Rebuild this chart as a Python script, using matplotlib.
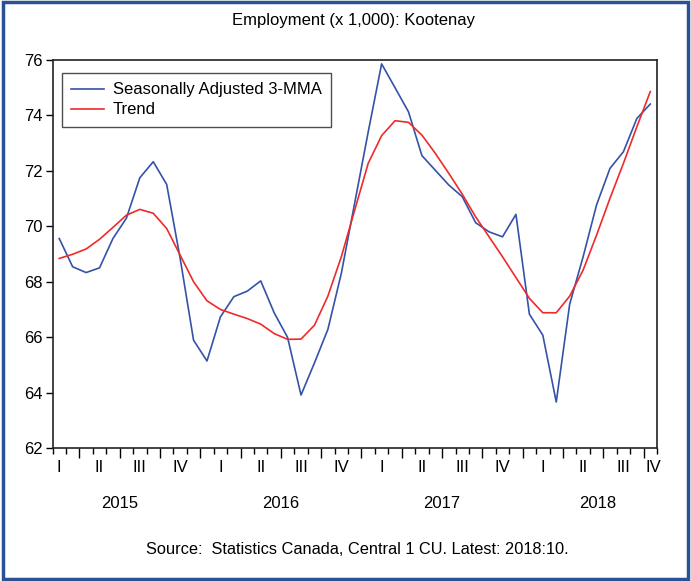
import matplotlib
matplotlib.use("Agg")
import matplotlib.pyplot as plt
import matplotlib.transforms as mtransforms
from matplotlib.patches import Rectangle

plt.rcParams['font.family'] = ['Liberation Sans', 'DejaVu Sans']

# monthly observations, Feb 2015 .. Oct 2018
sa_3mma = [69.56, 68.54, 68.33, 68.50, 69.56, 70.29, 71.75, 72.33, 71.51, 68.85,
           65.89, 65.14, 66.73, 67.46, 67.66, 68.03, 66.88, 65.99, 63.91, 65.07,
           66.28, 68.30, 70.85, 73.40, 75.86, 75.00, 74.13, 72.55, 72.02, 71.49,
           71.07, 70.13, 69.80, 69.62, 70.43, 66.83, 66.07, 63.66, 67.19, 68.90,
           70.77, 72.09, 72.69, 73.89, 74.41]
trend = [68.84, 68.99, 69.18, 69.53, 69.96, 70.40, 70.61, 70.47, 69.92, 68.96,
         68.00, 67.31, 67.00, 66.83, 66.67, 66.47, 66.13, 65.92, 65.93, 66.43,
         67.48, 68.90, 70.59, 72.27, 73.27, 73.81, 73.75, 73.29, 72.63, 71.91,
         71.16, 70.34, 69.62, 68.90, 68.15, 67.40, 66.88, 66.88, 67.48, 68.42,
         69.68, 71.01, 72.27, 73.59, 74.86]
years = [2015, 2016, 2017, 2018]
quarters = ["I", "II", "III", "IV"]
yticks = [62, 64, 66, 68, 70, 72, 74, 76]

n = len(sa_3mma)
x = list(range(n))

fig = plt.figure(figsize=(6.91, 5.81), dpi=100)
ax = fig.add_axes([52.5 / 691, 1 - 448 / 581, (657 - 52.5) / 691, 388 / 581])

ax.plot(x, sa_3mma, color="#3452a8", lw=1.2, label="Seasonally Adjusted 3-MMA")
ax.plot(x, trend, color="#ee2a2a", lw=1.2, label="Trend")

ax.set_xlim(-0.5, n - 0.5)
ax.set_ylim(62, 76)
ax.set_yticks(yticks)
ax.tick_params(axis="y", length=5, width=1, labelsize=12, pad=2)
for s in ax.spines.values():
    s.set_linewidth(1.2)
    s.set_color("#222222")

# month boundaries as minor ticks, quarter boundaries as major ticks
month_edges = [i - 0.5 for i in range(n + 1)]
q_edges = [i + 1.5 for i in range(0, n - 2, 3)]
ax.set_xticks(q_edges)
ax.set_xticks(month_edges, minor=True)
ax.set_xticklabels([])
ax.tick_params(axis="x", which="major", length=7, width=1)
ax.tick_params(axis="x", which="minor", length=4, width=1)

# quarter and year labels under the axis
trans = mtransforms.blended_transform_factory(ax.transData, ax.transAxes)
k = 0
for yr in years:
    pos = []
    for q in quarters:
        c = min(3 * k, n - 0.8)
        ax.text(c, -0.05, q, transform=trans, ha="center", va="center", fontsize=12)
        pos.append(c)
        k += 1
    ax.text((pos[0] + pos[-1]) / 2, -0.142, str(yr), transform=trans,
            ha="center", va="center", fontsize=12)

leg = ax.legend(loc="upper left", bbox_to_anchor=(0.0157, 0.966), fontsize=12,
                frameon=True, fancybox=False, borderpad=0.55, handlelength=2.0,
                labelspacing=0.3, handletextpad=0.5, borderaxespad=0)
leg.get_frame().set_edgecolor("#222222")
leg.get_frame().set_linewidth(1.0)

fig.text(353 / 691, 1 - 20 / 581, "Employment (x 1,000): Kootenay", ha="center",
         va="center", fontsize=12)
fig.text(357 / 691, 1 - 550 / 581, "Source:  Statistics Canada, Central 1 CU. Latest: 2018:10.",
         ha="center", va="center", fontsize=11.8)

fig.patches.append(Rectangle((0.004, 0.004), 0.992, 0.992, transform=fig.transFigure,
                             fill=False, edgecolor="#2a5293", lw=2.5))

fig.savefig("out.png", dpi=100)
